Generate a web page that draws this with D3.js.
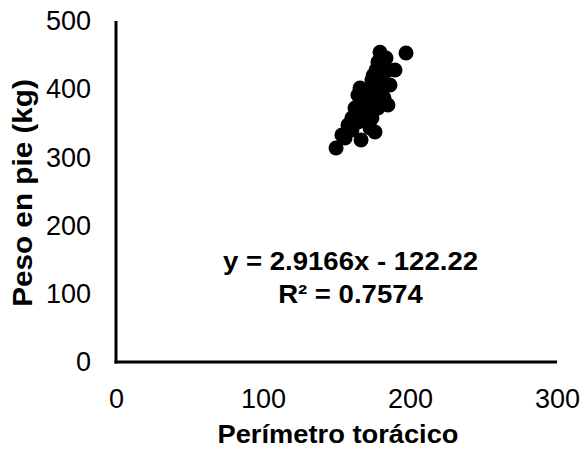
<!DOCTYPE html>
<html><head><meta charset="utf-8">
<script src="https://cdn.jsdelivr.net/npm/d3@7"></script>
<style>body{margin:0;background:#fff}svg{display:block}text{font-family:"Liberation Sans",Arial,sans-serif}</style>
</head><body><div id="chart"></div>
<script>
const perimetro = [149.7,155.8,160.5,166.7,176.2,164.6,169.4,174.1,162.6,167.3,172.8,178.2,185,166,170.7,176.2,181,174.1,179.6,185,178.2,179.6,183.7,189.8,197.3,175,157.8,153.7,172.8,168,182.3,174.8,182.3,186.4,176.9,160.5,164.6,170];
const peso = [313.8,328.4,340.2,325.5,337.2,351.9,362.2,357.8,372.4,381.2,376.8,372.4,376.8,401.8,395.9,391.5,398.8,413.5,420.8,428.2,439.9,454,445.7,428.2,453,420,347.5,332.8,343.1,369.5,387.1,404.7,410.6,406.2,428.2,357.8,391.5,384.2];
const xTicks = [0,100,200,300];
const yTicks = [0,100,200,300,400,500];
const equation = "y = 2.9166x - 122.22";
const r2 = "R² = 0.7574";

const W=585,H=458;
const svg=d3.select("#chart").append("svg").attr("width",W).attr("height",H);
const x=d3.scaleLinear().domain([0,300]).range([116,557]);
const y=d3.scaleLinear().domain([0,500]).range([362,21]);

// axes
const xAxis=d3.axisBottom(x).tickValues(xTicks).tickSize(0);
const gx=svg.append("g").attr("transform",`translate(0,${y(0)})`).call(xAxis);
gx.select(".domain").attr("stroke","#000").attr("stroke-width",3).attr("d",`M${x(0)-1.5},0H${x(300)}`);
gx.selectAll("text").attr("font-size",27).attr("fill","#000").attr("dy","0.35em").attr("y",37);

const yAxis=d3.axisLeft(y).tickValues(yTicks).tickSize(0);
const gy=svg.append("g").attr("transform",`translate(${x(0)},0)`).call(yAxis);
gy.select(".domain").attr("stroke","#000").attr("stroke-width",3).attr("d",`M0,${y(500)}V${y(0)+1.5}`);
gy.selectAll("text").attr("font-size",27).attr("fill","#000").attr("x",-25);

// points
svg.append("g").selectAll("circle").data(perimetro.map((v,i)=>[v,peso[i]])).join("circle")
  .attr("cx",d=>x(d[0])).attr("cy",d=>y(d[1])).attr("r",7.5).attr("fill","#000");

// equation
svg.append("text").attr("transform","translate(350.5,270) scale(1.06,1)").attr("text-anchor","middle").attr("font-size",26).attr("font-weight","bold").text(equation);
svg.append("text").attr("transform","translate(350.5,303) scale(1.06,1)").attr("text-anchor","middle").attr("font-size",26).attr("font-weight","bold").text(r2);

// titles
svg.append("text").attr("transform","translate(338,443) scale(1.05,1)").attr("text-anchor","middle").attr("font-size",26).attr("font-weight","bold").text("Perímetro torácico");
svg.append("text").attr("transform","translate(32,193) rotate(-90) scale(1.1,1)").attr("text-anchor","middle").attr("font-size",27).attr("font-weight","bold").text("Peso en pie (kg)");
</script></body></html>
